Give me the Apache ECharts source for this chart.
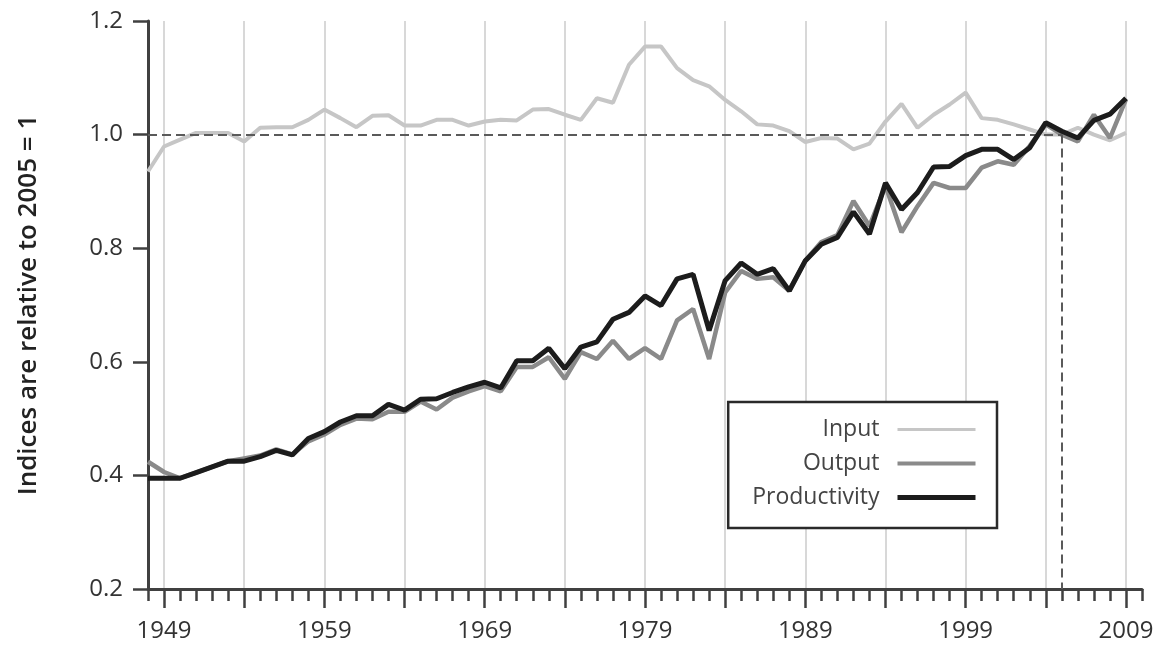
<!DOCTYPE html>
<html>
<head>
<meta charset="utf-8">
<script src="https://cdn.jsdelivr.net/npm/echarts@6/dist/echarts.min.js"></script>
<style>
  html, body { margin: 0; padding: 0; background: #ffffff; }
  #chart { width: 1163px; height: 645px; }
</style>
</head>
<body>
<div id="chart"></div>
<script>
// Years on the horizontal axis (the axis runs one year past the last observation)
const years = [
  '1948','1949','1950','1951','1952','1953','1954','1955','1956','1957',
  '1958','1959','1960','1961','1962','1963','1964','1965','1966','1967',
  '1968','1969','1970','1971','1972','1973','1974','1975','1976','1977',
  '1978','1979','1980','1981','1982','1983','1984','1985','1986','1987',
  '1988','1989','1990','1991','1992','1993','1994','1995','1996','1997',
  '1998','1999','2000','2001','2002','2003','2004','2005','2006','2007',
  '2008','2009','2010'
];

// Index values, 1948-2009 (2005 = 1)
const input = [
  0.935, 0.979, 0.991, 1.003, 1.003, 1.003, 0.988, 1.012, 1.013, 1.013,
  1.026, 1.044, 1.029, 1.013, 1.033, 1.034, 1.016, 1.016, 1.026, 1.026,
  1.016, 1.023, 1.026, 1.025, 1.044, 1.045, 1.035, 1.026, 1.064, 1.056,
  1.123, 1.155, 1.155, 1.117, 1.096, 1.085, 1.061, 1.041, 1.018, 1.016,
  1.006, 0.987, 0.994, 0.993, 0.974, 0.984, 1.023, 1.054, 1.012, 1.035,
  1.053, 1.074, 1.029, 1.026, 1.018, 1.009, 1.000, 1.000, 1.012, 1.000,
  0.990, 1.003
];

const output = [
  0.424, 0.406, 0.395, 0.405, 0.415, 0.425, 0.430, 0.435, 0.446, 0.437,
  0.460, 0.472, 0.489, 0.500, 0.499, 0.512, 0.512, 0.530, 0.516, 0.537,
  0.548, 0.557, 0.548, 0.591, 0.591, 0.608, 0.570, 0.617, 0.605, 0.637,
  0.605, 0.624, 0.605, 0.673, 0.693, 0.605, 0.722, 0.760, 0.746, 0.749,
  0.725, 0.778, 0.811, 0.823, 0.883, 0.839, 0.910, 0.828, 0.874, 0.915,
  0.906, 0.906, 0.942, 0.953, 0.947, 0.980, 1.018, 1.000, 0.988, 1.035,
  0.994, 1.062
];

const productivity = [
  0.395, 0.395, 0.395, 0.405, 0.415, 0.425, 0.425, 0.433, 0.444, 0.436,
  0.465, 0.477, 0.494, 0.505, 0.505, 0.525, 0.515, 0.534, 0.535, 0.546,
  0.556, 0.564, 0.554, 0.602, 0.602, 0.624, 0.588, 0.626, 0.635, 0.675,
  0.687, 0.716, 0.699, 0.746, 0.754, 0.655, 0.743, 0.774, 0.754, 0.764,
  0.725, 0.778, 0.807, 0.819, 0.864, 0.825, 0.915, 0.868, 0.898, 0.943,
  0.944, 0.963, 0.974, 0.974, 0.956, 0.977, 1.021, 1.006, 0.994, 1.025,
  1.036, 1.064
];

const seriesNames = ['Input', 'Output', 'Productivity'];
const seriesColors = ['#c6c6c6', '#8a8a8a', '#1c1c1c'];
const baseYear = '2005';
const yAxisTitle = 'Indices are relative to 2005 = 1';

const FONT = '"Open Sans", "Noto Sans", sans-serif';
const AXIS_COLOR = '#404040';

const everyFifth = (i, v) => (Number(v) - 1949) % 5 === 0;
const everyTenth = (i, v) => (Number(v) - 1949) % 10 === 0;

const chart = echarts.init(document.getElementById('chart'), null, { renderer: 'canvas' });

// legend entries show the line only, without the marker dot
const legendEntry = (i, width) => ({
  name: seriesNames[i],
  lineStyle: { width: width, color: seriesColors[i] },
  itemStyle: { opacity: 0 }
});

const option = {
  animation: false,
  backgroundColor: '#ffffff',
  grid: { left: 148, right: 21, top: 21, bottom: 56, containLabel: false },
  xAxis: [
    {
      // yearly ticks and decade labels
      type: 'category',
      data: years,
      boundaryGap: false,
      axisLine: { show: true, lineStyle: { color: AXIS_COLOR, width: 3 } },
      axisTick: { show: true, interval: 0, length: 12, lineStyle: { color: AXIS_COLOR, width: 2.5 } },
      axisLabel: {
        interval: everyTenth, margin: 30, fontSize: 24,
        color: '#333333', fontFamily: FONT
      },
      splitLine: { show: false }
    },
    {
      // longer five-year ticks and the vertical grid
      type: 'category',
      data: years,
      boundaryGap: false,
      position: 'bottom',
      axisLine: { show: false },
      axisTick: { show: true, interval: everyFifth, length: 19, lineStyle: { color: AXIS_COLOR, width: 2.5 } },
      axisLabel: { show: false },
      splitLine: { show: true, interval: everyFifth, lineStyle: { color: '#d8d8d8', width: 2 } }
    }
  ],
  yAxis: {
    type: 'value',
    min: 0.2,
    max: 1.2,
    interval: 0.2,
    name: yAxisTitle,
    nameLocation: 'middle',
    nameGap: 106,
    nameTextStyle: { fontSize: 26, fontWeight: 600, color: '#222222', fontFamily: FONT },
    axisLine: { show: true, lineStyle: { color: AXIS_COLOR, width: 3 } },
    axisTick: { show: true, length: 15, lineStyle: { color: AXIS_COLOR, width: 2.5 } },
    axisLabel: {
      margin: 25, fontSize: 24, color: '#333333', fontFamily: FONT,
      formatter: v => v.toFixed(1)
    },
    splitLine: { show: false }
  },
  legend: {
    orient: 'vertical',
    align: 'right',
    right: 166,
    top: 402,
    padding: [16, 19, 19, 24],
    itemWidth: 78,
    itemHeight: 24,
    itemGap: 11,
    borderColor: '#2a2a2a',
    borderWidth: 2.5,
    backgroundColor: '#ffffff',
    textStyle: { fontSize: 23, color: '#444444', fontFamily: FONT, padding: [0, 13, 0, 0] },
    data: [legendEntry(0, 3), legendEntry(1, 4), legendEntry(2, 5)]
  },
  series: [
    {
      name: seriesNames[0],
      type: 'line',
      data: input,
      symbol: 'none',
      z: 3,
      lineStyle: { color: seriesColors[0], width: 4 },
      itemStyle: { color: seriesColors[0] },
      markLine: {
        silent: true,
        symbol: 'none',
        label: { show: false },
        lineStyle: { color: '#5a5a5a', width: 2, type: [9, 5] },
        data: [
          [{ coord: [years[0], 1] }, { coord: [baseYear, 1] }],
          [{ coord: [baseYear, 1] }, { coord: [baseYear, 0.2] }]
        ]
      }
    },
    {
      name: seriesNames[1],
      type: 'line',
      data: output,
      symbol: 'none',
      z: 4,
      lineStyle: { color: seriesColors[1], width: 4.5 },
      itemStyle: { color: seriesColors[1] }
    },
    {
      name: seriesNames[2],
      type: 'line',
      data: productivity,
      symbol: 'none',
      z: 5,
      lineStyle: { color: seriesColors[2], width: 5 },
      itemStyle: { color: seriesColors[2] }
    }
  ]
};

chart.setOption(option);
</script>
</body>
</html>
